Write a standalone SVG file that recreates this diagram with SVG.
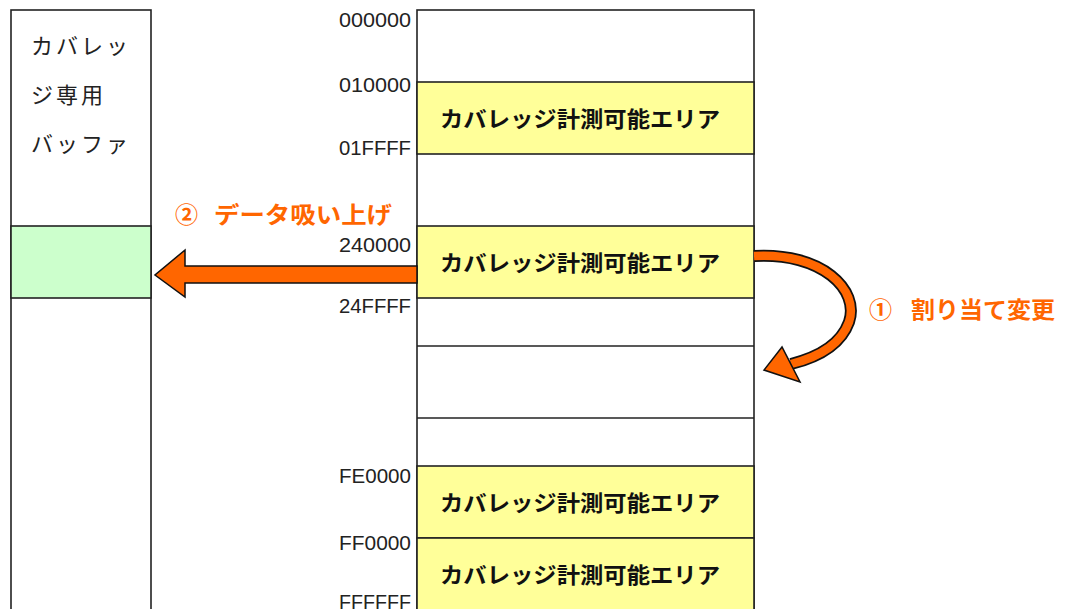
<svg xmlns="http://www.w3.org/2000/svg" width="1065" height="609" viewBox="0 0 1065 609">
<style>
.box{stroke:#222;stroke-width:1.6;}
.w{fill:#ffffff;}
.y{fill:#ffff99;}
.g{fill:#ccffcc;}
.addr{font-family:"Liberation Sans","DejaVu Sans",sans-serif;font-size:20px;fill:#222;text-anchor:end;}
.area{font-family:"Noto Sans CJK JP","Noto Sans CJK SC",sans-serif;font-size:22px;font-weight:bold;fill:#111;text-anchor:middle;dominant-baseline:central;}
.buf{font-family:"Noto Sans CJK JP","Noto Sans CJK SC",sans-serif;font-size:22px;fill:#222;dominant-baseline:central;letter-spacing:3px;}
.lbl{font-family:"Noto Sans CJK JP","Noto Sans CJK SC",sans-serif;font-size:23px;font-weight:bold;fill:#ff6600;dominant-baseline:central;}
</style>
<rect width="1065" height="609" fill="#ffffff"/>
<g id="buffer">
<rect class="box w" x="11" y="10" width="140" height="610"/>
<rect class="box g" x="11" y="226" width="140" height="72"/>
<text class="buf" x="31" y="44">カバレッ</text>
<text class="buf" x="31" y="93">ジ専用</text>
<text class="buf" x="31" y="142">バッファ</text>
</g>
<g id="memory">
<rect class="box w" x="417" y="10" width="337" height="610"/>
<rect class="box y" x="417" y="82" width="337" height="72"/>
<rect class="box y" x="417" y="226" width="337" height="72"/>
<line class="box" x1="417" y1="346" x2="754" y2="346"/>
<line class="box" x1="417" y1="418" x2="754" y2="418"/>
<rect class="box y" x="417" y="466" width="337" height="72"/>
<rect class="box y" x="417" y="538" width="337" height="80"/>
</g>
<g id="area1"><text class="area" x="580" y="117" textLength="280" lengthAdjust="spacingAndGlyphs">カバレッジ計測可能エリア</text></g>
<g id="area2"><text class="area" x="580" y="261" textLength="280" lengthAdjust="spacingAndGlyphs">カバレッジ計測可能エリア</text></g>
<g id="area3"><text class="area" x="580" y="501" textLength="280" lengthAdjust="spacingAndGlyphs">カバレッジ計測可能エリア</text></g>
<g id="area4"><text class="area" x="580" y="573" textLength="280" lengthAdjust="spacingAndGlyphs">カバレッジ計測可能エリア</text></g>
<g id="addresses">
<text class="addr" x="411" y="27" textLength="72" lengthAdjust="spacingAndGlyphs">000000</text>
<text class="addr" x="411" y="92" textLength="72" lengthAdjust="spacingAndGlyphs">010000</text>
<text class="addr" x="411" y="155" textLength="72" lengthAdjust="spacingAndGlyphs">01FFFF</text>
<text class="addr" x="411" y="252" textLength="72" lengthAdjust="spacingAndGlyphs">240000</text>
<text class="addr" x="411" y="313" textLength="72" lengthAdjust="spacingAndGlyphs">24FFFF</text>
<text class="addr" x="411" y="483" textLength="72" lengthAdjust="spacingAndGlyphs">FE0000</text>
<text class="addr" x="411" y="550" textLength="72" lengthAdjust="spacingAndGlyphs">FF0000</text>
<text class="addr" x="411" y="609" textLength="72" lengthAdjust="spacingAndGlyphs">FFFFFF</text>
</g>
<g id="connectors">
<polygon points="417,266 185,266 185,250 155,275 185,297 185,283 417,283" fill="#ff6600" stroke="#111" stroke-width="1.5" stroke-linejoin="miter"/>
<path d="M 754 256 C 822 252, 860 290, 849 322 C 840 347, 815 358, 791 364" fill="none" stroke="#111" stroke-width="12"/>
<path d="M 754 256 C 822 252, 860 290, 849 322 C 840 347, 815 358, 791 364" fill="none" stroke="#ff6600" stroke-width="8.5"/>
<polygon points="782,347 764,370 800,382" fill="#ff6600" stroke="#111" stroke-width="1.5"/>
</g>
<g id="labels">
<text class="lbl" x="175" y="213"><tspan>②</tspan><tspan x="214" textLength="178" lengthAdjust="spacingAndGlyphs">データ吸い上げ</tspan></text>
<text class="lbl" x="869" y="308"><tspan>①</tspan><tspan x="911" textLength="144" lengthAdjust="spacingAndGlyphs">割り当て変更</tspan></text>
</g>
</svg>
